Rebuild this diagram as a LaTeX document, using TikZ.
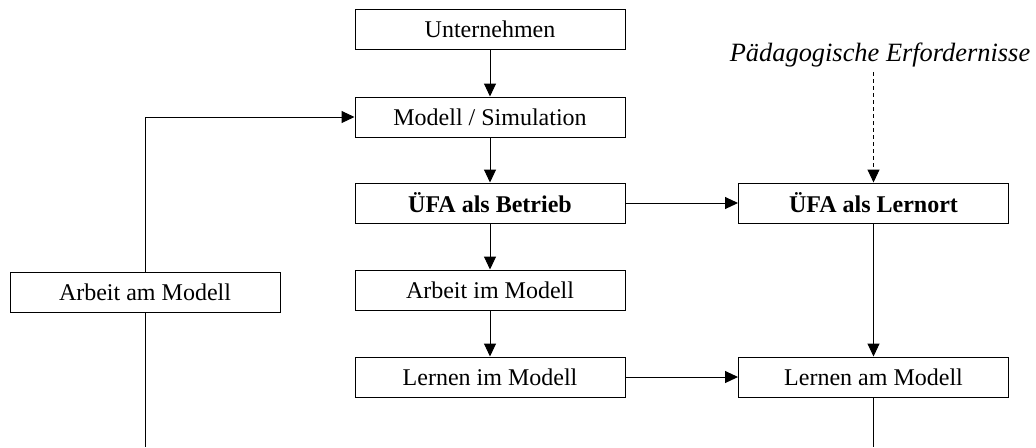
\documentclass[tikz,border=0pt]{standalone}
\usepackage{fontspec}
\setmainfont{Liberation Serif}
\usetikzlibrary{arrows.meta}
\begin{document}
\begin{tikzpicture}[x=0.5pt,y=-0.5pt,
  box/.style={draw,line width=0.5pt,minimum width=135pt,minimum height=20pt,
    inner sep=0pt,font=\fontsize{12}{14}\selectfont},
  boldbox/.style={box,font=\fontsize{12}{14}\selectfont\bfseries},
  conn/.style={line width=0.5pt,-{Triangle[length=6.5pt,width=6pt]}},
  plain/.style={line width=0.5pt}]
\useasboundingbox (0,0) rectangle (1036,447);
% central column
\node[box] (unt) at (490,29) {Unternehmen};
\node[box] (mod) at (490,117) {Modell / Simulation};
\node[boldbox] (betr) at (490,203) {ÜFA als Betrieb};
\node[box] (aim) at (490,290) {Arbeit im Modell};
\node[box] (lim) at (490,377) {Lernen im Modell};
% right column
\node[font=\fontsize{13.2}{15}\selectfont\itshape] (paed) at (880,55) {Pädagogische Erfordernisse};
\node[boldbox] (lern) at (873.5,203) {ÜFA als Lernort};
\node[box] (lam) at (873.5,377) {Lernen am Modell};
% left column
\node[box] (aam) at (145,292) {Arbeit am Modell};
\coordinate (lbot) at (145,447);
\coordinate (rbot) at (lam.south |- 0,447);
\coordinate (ltop) at (145,117);
% connectors
\draw[conn] (unt) -- (mod);
\draw[conn] (mod) -- (betr);
\draw[conn] (betr) -- (aim);
\draw[conn] (aim) -- (lim);
\draw[conn] (betr) -- (lern);
\draw[conn] (lim) -- (lam);
\draw[conn] (lern) -- (lam);
\draw[conn,dash pattern=on 2pt off 1.5pt] (lern.north |- 0,72) -- (lern.north);
\draw[conn] (aam.north) -- (ltop) -- (mod.west);
\draw[plain] (aam.south) -- (lbot);
\draw[plain] (lam.south) -- (rbot);
\end{tikzpicture}
\end{document}
